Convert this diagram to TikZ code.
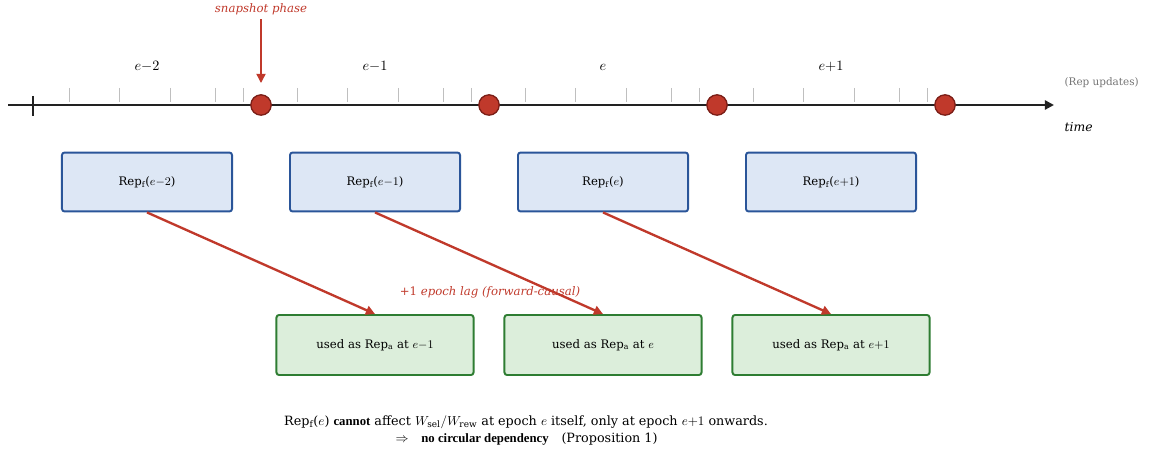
\documentclass[tikz,border=0pt]{standalone}
\usepackage{fontspec}
\setmainfont{DejaVu Serif}
\newfontfamily\boldnarrow{Liberation Serif}
\usetikzlibrary{arrows.meta}

\definecolor{snapred}{HTML}{C0392B}
\definecolor{snapdark}{HTML}{7B1E17}
\definecolor{repfill}{HTML}{DDE7F5}
\definecolor{repdraw}{HTML}{2A5599}
\definecolor{usefill}{HTML}{DCEEDB}
\definecolor{usedraw}{HTML}{2E7D32}
\definecolor{axisgray}{HTML}{222222}

\tikzset{
  axis/.style={line width=1.7pt, draw=axisgray},
  tickmark/.style={line width=0.6pt, draw=black!25},
  snapdot/.style={circle, fill=snapred, draw=snapdark, line width=1pt, minimum size=0.55cm, inner sep=0pt},
  epochlabel/.style={font=\fontsize{10.5}{12}\selectfont},
  repbox/.style={draw=repdraw, fill=repfill, line width=1.5pt, rounded corners=2pt,
    minimum width=4.59cm, minimum height=1.59cm, font=\fontsize{9}{11}\selectfont},
  usebox/.style={draw=usedraw, fill=usefill, line width=1.5pt, rounded corners=2pt,
    minimum width=5.32cm, minimum height=1.62cm, font=\fontsize{9}{11}\selectfont},
  lag/.style={draw=snapred, line width=1.8pt, -{Triangle[length=7pt,width=7pt]}},
  rednote/.style={text=snapred, font=\fontsize{9}{11}\selectfont\itshape}
}

\begin{document}
\begin{tikzpicture}[x=0.027cm, y=-0.027cm]
  \useasboundingbox (0,0) rectangle (1152,452);

  % time axis
  \coordinate (tstart) at (8,105);
  \coordinate (tend) at (1054,105);
  \draw[axis, -{Triangle[length=7pt,width=7pt]}] (tstart) -- (tend);
  \draw[axis] (33,96) -- (33,116);
  \foreach \s in {33,261,489,717}
    \foreach \d in {36,86,137,182,210}
      \draw[tickmark] (\s+\d,88) -- (\s+\d,102);

  \node[snapdot] (s1) at (261,105) {};
  \node[snapdot] (s2) at (489,105) {};
  \node[snapdot] (s3) at (717,105) {};
  \node[snapdot] (s4) at (945,105) {};

  \node[epochlabel] (ep1) at (147,67) {$e{-}2$};
  \node[epochlabel] (ep2) at (375,67) {$e{-}1$};
  \node[epochlabel] (ep3) at (603,67) {$e$};
  \node[epochlabel] (ep4) at (831,67) {$e{+}1$};

  \node[rednote] (snap) at (261,9) {snapshot phase};
  \coordinate (snaptip) at (261,83);
  \draw[lag, line width=1.1pt] (snap) -- (snaptip);

  \node[right, text=black!55, font=\fontsize{8}{10}\selectfont] (upd) at (1060,83) {(Rep updates)};
  \node[right, font=\fontsize{9.5}{11}\selectfont\itshape] (time) at (1060,127) {time};

  % representations
  \node[repbox] (r1) at (147,182) {Rep$_\mathrm{f}$($e{-}2$)};
  \node[repbox] (r2) at (375,182) {Rep$_\mathrm{f}$($e{-}1$)};
  \node[repbox] (r3) at (603,182) {Rep$_\mathrm{f}$($e$)};
  \node[repbox] (r4) at (831,182) {Rep$_\mathrm{f}$($e{+}1$)};

  \node[usebox] (u1) at (375,345) {used as Rep$_\mathrm{a}$ at $e{-}1$};
  \node[usebox] (u2) at (603,345) {used as Rep$_\mathrm{a}$ at $e$};
  \node[usebox] (u3) at (831,345) {used as Rep$_\mathrm{a}$ at $e{+}1$};

  \draw[lag] (r1.south) -- (u1.north);
  \draw[lag] (r2.south) -- (u2.north);
  \draw[lag] (r3.south) -- (u3.north);

  \node[rednote] (laglabel) at (490,292) {{\upshape +1} epoch lag (forward-causal)};

  \node[font=\fontsize{9.8}{11}\selectfont] (note1) at (526,422)
    {Rep$_\mathrm{f}$($e$) {\boldnarrow\bfseries cannot} affect $W_\mathrm{sel}/W_\mathrm{rew}$ at epoch $e$ itself, only at epoch $e{+}1$ onwards.};
  \node[right, font=\fontsize{9.8}{11}\selectfont] (note2) at (391,439)
    {$\Rightarrow$\quad{\boldnarrow\bfseries no circular dependency}\quad(Proposition 1)};
\end{tikzpicture}
\end{document}
